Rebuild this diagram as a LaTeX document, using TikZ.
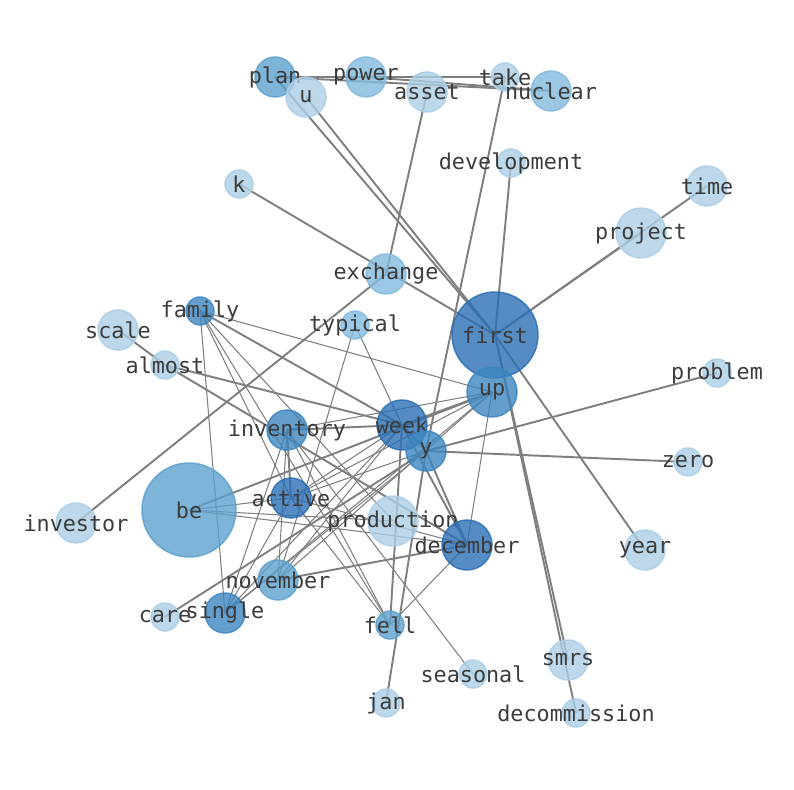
\documentclass[tikz,border=0pt]{standalone}
\usepackage{fontspec}
\setmonofont{DejaVu Sans Mono}
\usepackage{xcolor}
\definecolor{blue01}{HTML}{ABCEE5}
\definecolor{blue02}{HTML}{82BADD}
\definecolor{blue03}{HTML}{5DA1CD}
\definecolor{blue04}{HTML}{3D86C1}
\definecolor{blue05}{HTML}{2B6FB4}
\definecolor{edge01}{HTML}{7F7F7F}
\definecolor{label01}{HTML}{3C3C3C}
\usepackage{tikz}
\usetikzlibrary{backgrounds}
\tikzset{
    word/.style={
        circle, draw, line width=0.85pt,
        inner sep=0pt,
        fill opacity=0.8,
        draw opacity=0.85
    },
    wsmall/.style={word, minimum size=0.56cm},
    wmid/.style={word, minimum size=0.8cm},
    wbig/.style={word, minimum size=1.0cm},
    every label/.style={
        font=\ttfamily\fontsize{12.4}{14}\selectfont,
        text=label01, text opacity=1, inner sep=0pt
    },
    conn/.style={line width=1.1pt, draw=edge01},
    connl/.style={line width=0.6pt, draw=edge01},
}

\begin{document}
\begin{tikzpicture}[x=0.02cm, y=-0.02cm]
        \useasboundingbox (0,0) rectangle (794,790);

        \node[wmid, fill=blue03, draw=blue03, label={center:plan}] (plan) at (275,77) {};
        \node[wmid, fill=blue02, draw=blue02, label={center:power}] (power) at (366,77) {};
        \node[wmid, fill=blue01, draw=blue01, label={center:u}] (u) at (306,97) {};
        \node[wmid, fill=blue01, draw=blue01, label={center:asset}] (asset) at (427,92) {};
        \node[wsmall, fill=blue01, draw=blue01, label={center:take}] (take) at (505,77) {};
        \node[wmid, fill=blue02, draw=blue02, label={center:nuclear}] (nuclear) at (551,91) {};
        \node[wsmall, fill=blue01, draw=blue01, label={center:development}] (development) at (511,163) {};
        \node[wsmall, fill=blue01, draw=blue01, label={center:k}] (k) at (239,184) {};
        \node[wmid, fill=blue01, draw=blue01, label={center:time}] (time) at (707,186) {};
        \node[wbig, fill=blue01, draw=blue01, label={center:project}] (project) at (641,233) {};
        \node[wmid, fill=blue02, draw=blue02, label={center:exchange}] (exchange) at (386,274) {};
        \node[wsmall, fill=blue04, draw=blue04, label={center:family}] (family) at (200,311) {};
        \node[wsmall, fill=blue02, draw=blue02, label={center:typical}] (typical) at (355,325) {};
        \node[wmid, fill=blue01, draw=blue01, label={center:scale}] (scale) at (118,330) {};
        \node[wsmall, fill=blue01, draw=blue01, label={center:almost}] (almost) at (165,365) {};
        \node[word, minimum size=1.72cm, fill=blue05, draw=blue05, label={center:first}] (first) at (495,335) {};
        \node[wbig, fill=blue04, draw=blue04, label={center:up}] (up) at (492,392) {};
        \node[wsmall, fill=blue01, draw=blue01, label={center:problem}] (problem) at (717,373) {};
        \node[wbig, fill=blue05, draw=blue05, label={center:week}] (week) at (402,425) {};
        \node[wmid, fill=blue04, draw=blue04, label={center:inventory}] (inventory) at (287,430) {};
        \node[wmid, fill=blue04, draw=blue04, label={center:y}] (y) at (426,451) {};
        \node[wsmall, fill=blue01, draw=blue01, label={center:zero}] (zero) at (688,462) {};
        \node[word, minimum size=1.88cm, fill=blue03, draw=blue03, label={center:be}] (be) at (189,510) {};
        \node[wmid, fill=blue05, draw=blue05, label={center:active}] (active) at (291,498) {};
        \node[wmid, fill=blue01, draw=blue01, label={center:investor}] (investor) at (76,523) {};
        \node[wbig, fill=blue01, draw=blue01, label={center:production}] (production) at (393,521) {};
        \node[wbig, fill=blue05, draw=blue05, label={center:december}] (december) at (467,545) {};
        \node[wmid, fill=blue01, draw=blue01, label={center:year}] (year) at (645,550) {};
        \node[wmid, fill=blue03, draw=blue03, label={center:november}] (november) at (278,580) {};
        \node[wsmall, fill=blue01, draw=blue01, label={center:care}] (care) at (165,617) {};
        \node[wmid, fill=blue04, draw=blue04, label={center:single}] (single) at (225,613) {};
        \node[wsmall, fill=blue03, draw=blue03, label={center:fell}] (fell) at (390,625) {};
        \node[wsmall, fill=blue01, draw=blue01, label={center:seasonal}] (seasonal) at (473,674) {};
        \node[wmid, fill=blue01, draw=blue01, label={center:smrs}] (smrs) at (568,660) {};
        \node[wsmall, fill=blue01, draw=blue01, label={center:jan}] (jan) at (386,703) {};
        \node[wsmall, fill=blue01, draw=blue01, label={center:decommission}] (decommission) at (576,713) {};

        \begin{scope}[on background layer]
            \foreach \a/\b in {plan/nuclear, power/nuclear, plan/take, plan/first,
                    u/first, asset/exchange, take/y, development/first, k/first,
                    exchange/investor, first/project, first/time, first/year,
                    first/smrs, first/decommission, y/problem, y/zero, be/up,
                    care/y, y/jan, y/december, scale/almost, almost/week,
                    almost/december, family/week, inventory/week, inventory/active,
                    week/december, week/up, week/y, november/december, week/fell}
                \draw[conn] (\a.center) -- (\b.center);

            \foreach \a/\b in {family/up, family/single, family/active, family/fell,
                    family/production, typical/week, typical/november, be/active,
                    be/production, be/december, single/week, single/up, single/active,
                    single/y, single/inventory, november/week, november/up,
                    november/inventory, active/up, active/y, active/week,
                    active/december, active/fell, inventory/fell, inventory/seasonal,
                    inventory/up, up/december, fell/december}
                \draw[connl] (\a.center) -- (\b.center);
        \end{scope}
    \end{tikzpicture}
\end{document}
